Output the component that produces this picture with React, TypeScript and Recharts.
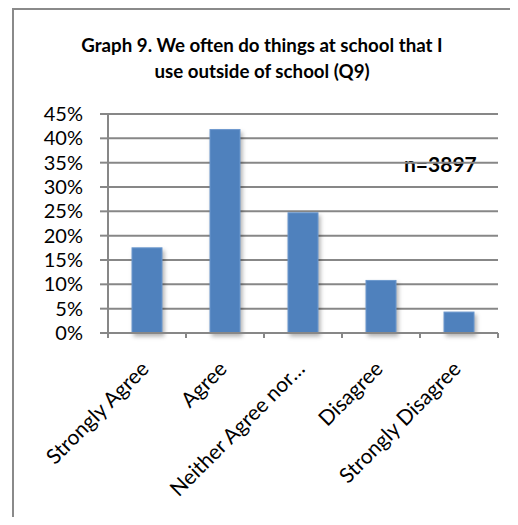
import React from 'react';
import { BarChart, Bar, XAxis, YAxis, CartesianGrid } from 'recharts';

const categories = ['Strongly Agree', 'Agree', 'Neither Agree nor Disagree', 'Disagree', 'Strongly Disagree'];
const shortLabels = ['Strongly Agree', 'Agree', 'Neither Agree nor…', 'Disagree', 'Strongly Disagree'];
const percents = [17.5, 41.8, 24.7, 10.8, 4.3];
const yTicks = [0, 5, 10, 15, 20, 25, 30, 35, 40, 45];
const titleLines = ['Graph 9. We often do things at school that I', 'use outside of school (Q9)'];
const sampleNote = 'n=3897';

const data = categories.map((name, i) => ({ name, label: shortLabels[i], value: percents[i] }));

const FONT = 'Lato, "Open Sans", sans-serif';
const GRID = '#878787';
const BAND = 78;

function XTick(props: any) {
  const { x, y, payload, index } = props;
  const label = shortLabels[index] ?? payload.value;
  const top = y - 8;
  const ax = x - 2;
  const ay = top + 32;
  return (
    <g>
      <line x1={x - BAND / 2} y1={top} x2={x - BAND / 2} y2={top + 5} stroke={GRID} strokeWidth={2} />
      {index === categories.length - 1 && (
        <line x1={x + BAND / 2} y1={top} x2={x + BAND / 2} y2={top + 5} stroke={GRID} strokeWidth={2} />
      )}
      <text
        x={ax}
        y={ay}
        transform={`rotate(-45, ${ax}, ${ay})`}
        textAnchor="end"
        dy="0.35em"
        fontSize={21}
        fontFamily={FONT}
        fill="#000"
      >
        {label}
      </text>
    </g>
  );
}

function ShadowBar(props: any) {
  const { x, y, width, height } = props;
  return (
    <rect
      x={x}
      y={y}
      width={width}
      height={height}
      fill="#4F81BD"
      stroke="#6C98CE"
      strokeWidth={1}
      style={{ filter: 'drop-shadow(2px 3px 2px rgba(0,0,0,0.3))' }}
    />
  );
}

export default function App() {
  return (
    <div style={{ position: 'relative', width: 518, height: 525, margin: -8, background: '#fff', overflow: 'hidden' }}>
      <div
        style={{
          position: 'absolute',
          left: 12,
          top: 8,
          width: 600,
          height: 600,
          borderTop: '2px solid #8a8a8a',
          borderLeft: '2px solid #8a8a8a',
        }}
      />
      <div
        style={{
          position: 'absolute',
          left: 57,
          width: 410,
          top: 32,
          textAlign: 'center',
          fontFamily: FONT,
          fontWeight: 700,
          fontSize: 18.7,
          lineHeight: '26px',
          color: '#000',
        }}
      >
        {titleLines.map((t) => (
          <div key={t}>{t}</div>
        ))}
      </div>
      <div
        style={{
          position: 'absolute',
          left: 404,
          top: 151,
          fontFamily: FONT,
          fontWeight: 700,
          fontSize: 21,
          color: '#000',
        }}
      >
        {sampleNote}
      </div>
      <div style={{ position: 'absolute', left: 0, top: 0 }}>
        <BarChart
          width={518}
          height={525}
          data={data}
          margin={{ top: 114, right: 20, bottom: 0, left: 0 }}
          barCategoryGap={24}
        >
          <CartesianGrid horizontal vertical={false} stroke={GRID} strokeWidth={2} />
          <XAxis
            dataKey="name"
            height={192}
            interval={0}
            axisLine={{ stroke: GRID, strokeWidth: 2 }}
            tickLine={false}
            tick={<XTick />}
          />
          <YAxis
            width={108}
            domain={[0, 45]}
            ticks={yTicks}
            interval={0}
            tickFormatter={(v: number) => `${v}%`}
            axisLine={{ stroke: GRID, strokeWidth: 2 }}
            tickLine={{ stroke: GRID, strokeWidth: 2 }}
            tickSize={8}
            tickMargin={17}
            tick={{ fontSize: 20, fontFamily: FONT, fill: '#000' }}
          />
          <Bar dataKey="value" isAnimationActive={false} shape={<ShadowBar />} />
        </BarChart>
      </div>
    </div>
  );
}
